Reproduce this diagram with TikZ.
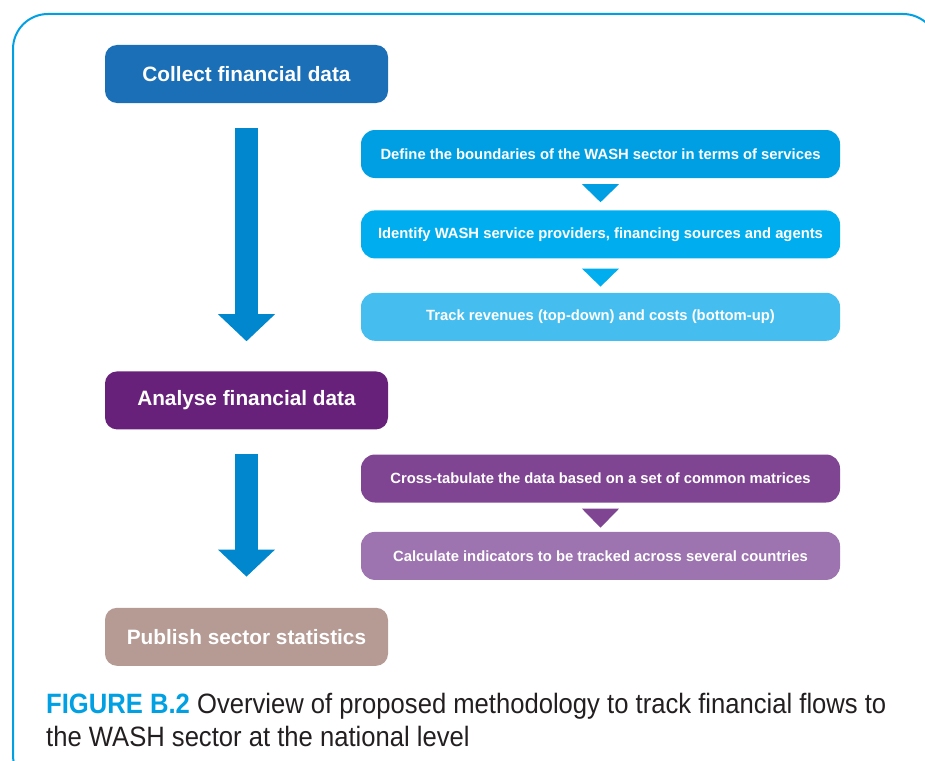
\documentclass[tikz,border=0pt]{standalone}
\usepackage{fontspec}
\setmainfont{Liberation Sans}
\newfontfamily\capfont[FakeStretch=0.915]{Liberation Sans}
\usetikzlibrary{arrows.meta, positioning, calc}
\definecolor{frameblue}{RGB}{0,160,227}
\definecolor{collectblue}{RGB}{27,111,183}
\definecolor{arrowblue}{RGB}{0,135,205}
\definecolor{defineblue}{RGB}{0,159,227}
\definecolor{identifyblue}{RGB}{0,174,239}
\definecolor{trackblue}{RGB}{69,190,239}
\definecolor{analysepurple}{RGB}{104,33,122}
\definecolor{crosspurple}{RGB}{128,69,146}
\definecolor{calcpurple}{RGB}{157,116,176}
\definecolor{publishtaupe}{RGB}{181,155,148}
\definecolor{captiongray}{RGB}{35,31,32}

\begin{document}
\begin{tikzpicture}[
  x=1pt, y=1pt,
  mainbox/.style={rounded corners=12pt,minimum width=283pt,minimum height=58pt,inner sep=0pt,
              text=white,font=\fontsize{20.8}{25}\selectfont\bfseries},
  subbox/.style={rounded corners=14pt,minimum width=479pt,minimum height=48pt,inner sep=0pt,
              text=white,font=\fontsize{14.8}{18}\selectfont\bfseries},
  bigarrow/.style={draw=arrowblue,line width=23pt,-{Triangle[width=57pt,length=27pt,line width=0pt]}},
  tri/.style={fill=#1}
]
  \useasboundingbox (0,0) rectangle (925,-760);
  % outer frame
  \begin{scope}
    \clip (0,0) rectangle (925,-760);
    \draw[frameblue, line width=2pt, rounded corners=35pt] (13,-14) rectangle (938,-790);
  \end{scope}

  \node[mainbox, fill=collectblue] (collect) at (246.5,-74) {Collect financial data};
  \node[mainbox, fill=analysepurple, below=268pt of collect] (analyse) {Analyse financial data};
  \node[mainbox, fill=publishtaupe, below=178pt of analyse] (publish) {Publish sector statistics};

  \node[subbox, fill=defineblue] (define) at (600.5,-154)
    {Define the boundaries of the WASH sector in terms of services};
  \node[subbox, fill=identifyblue, below=32pt of define] (identify)
    {Identify WASH service providers, financing sources and agents};
  \node[subbox, fill=trackblue, below=34pt of identify] (track)
    {Track revenues (top-down) and costs (bottom-up)};
  \node[subbox, fill=crosspurple] (cross) at (600.5,-478.5)
    {Cross-tabulate the data based on a set of common matrices};
  \node[subbox, fill=calcpurple, below=29pt of cross] (calc)
    {Calculate indicators to be tracked across several countries};

  \draw[bigarrow] ([yshift=-25pt]collect.south) -- ([yshift=30pt]analyse.north);
  \draw[bigarrow] ([yshift=-24pt]analyse.south) -- ([yshift=31pt]publish.north);

  \fill[tri=defineblue] ($(define.south)+(-18.5,-6)$) -- ($(define.south)+(18.5,-6)$)
    -- ($(identify.north)+(0,8)$) -- cycle;
  \fill[tri=identifyblue] ($(identify.south)+(-18.5,-10)$) -- ($(identify.south)+(18.5,-10)$)
    -- ($(track.north)+(0,6)$) -- cycle;
  \fill[tri=crosspurple] ($(cross.south)+(-18.5,-6)$) -- ($(cross.south)+(18.5,-6)$)
    -- ($(calc.north)+(0,4)$) -- cycle;

  \node[anchor=north west, inner sep=0pt, align=left, text=captiongray,
        font=\capfont\fontsize{28}{33}\selectfont] (caption) at (46,-693)
    {{\color{frameblue}\bfseries FIGURE B.2} Overview of proposed methodology to track financial flows to\\
     the WASH sector at the national level};
\end{tikzpicture}
\end{document}
